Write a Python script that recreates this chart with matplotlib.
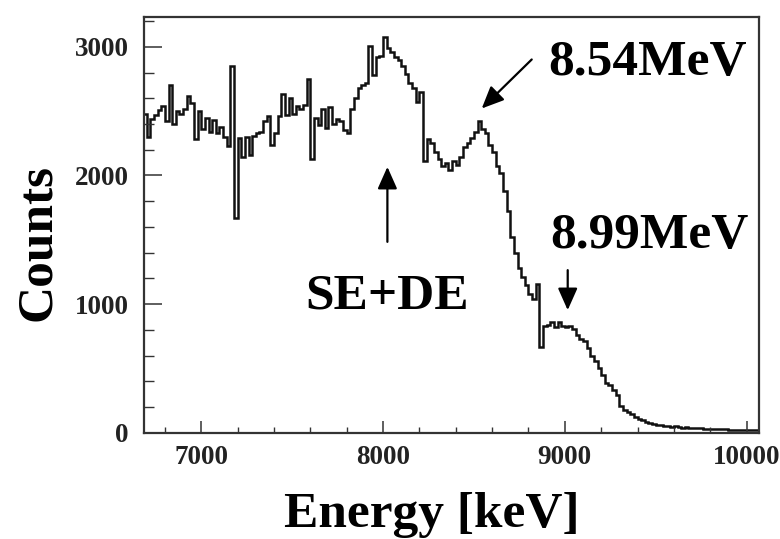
import numpy as np
import matplotlib
matplotlib.use("Agg")
import matplotlib.pyplot as plt
from matplotlib.patches import FancyArrowPatch
from matplotlib.ticker import MultipleLocator

# Histogram binning (keV)
E_START = 6680
BIN_WIDTH = 20

# Counts per 20 keV bin, starting at 6680 keV
counts_6680_7540 = [
    2480, 2300, 2440, 2470, 2510, 2540, 2420, 2700, 2400, 2500,
    2480, 2520, 2620, 2560, 2280, 2500, 2360, 2450, 2340, 2430,
    2330, 2380, 2300, 2230, 2850, 1670, 2290, 2140, 2300, 2160,
    2310, 2330, 2340, 2420, 2460, 2240, 2330, 2460, 2630, 2470,
    2600, 2480, 2540, 2520,
]
counts_7560_8400 = [
    2550, 2750, 2130, 2450, 2390, 2520, 2370, 2530, 2400, 2440,
    2420, 2350, 2330, 2520, 2600, 2680, 2700, 2720, 3010, 2780,
    2920, 2930, 3075, 2990, 2960, 2920, 2900, 2850, 2790, 2720,
    2680, 2573, 2650, 2110, 2280, 2250, 2180, 2130, 2070, 2100,
    2040, 2110, 2080,
]
counts_8420_8980 = [
    2140, 2220, 2250, 2290, 2340, 2420, 2360, 2330, 2240, 2180,
    2070, 2020, 1880, 1720, 1520, 1400, 1280, 1210, 1150, 1080,
    1040, 1160, 670, 830, 840, 860, 820, 860, 830,
]
counts_9000_10060 = [
    820, 830, 810, 760, 730, 710, 660, 600, 560, 500,
    450, 390, 370, 330, 290, 210, 180, 160, 145, 125,
    110, 95, 85, 75, 70, 60, 58, 55, 55, 45,
    50, 42, 40, 42, 38, 36, 35, 33, 30, 30,
    28, 26, 28, 25, 25, 24, 22, 24, 22, 20,
    22, 20, 18, 18,
]
counts = np.array(counts_6680_7540 + counts_7560_8400 + counts_8420_8980 + counts_9000_10060)
edges = E_START + BIN_WIDTH * np.arange(len(counts) + 1)

# Axis ranges and ticks
x_range = (6685, 10070)
y_range = (0, 3230)
x_major = [7000, 8000, 9000, 10000]
y_major = [0, 1000, 2000, 3000]

# Peak labels: (text, text position, arrow tail, arrow tip) in data coordinates
peak_labels = [
    ("8.54MeV", (8908, 2780), (8818, 2902), (8543, 2521)),
    ("8.99MeV", (8919, 1435), (9016, 1264), (9016, 953)),
    ("SE+DE", (7572, 969), (8024, 1484), (8024, 2067)),
]

serif = ["Liberation Serif", "DejaVu Serif"]

fig = plt.figure(figsize=(7.8, 5.39), dpi=100)
ax = fig.add_axes([144 / 780, 1 - 432.7 / 539, (759.3 - 144) / 780, (432.7 - 17.3) / 539])

ax.stairs(counts, edges, color="#111111", linewidth=1.8)

ax.set_xlim(*x_range)
ax.set_ylim(*y_range)
ax.set_xticks(x_major)
ax.set_yticks(y_major)
ax.xaxis.set_minor_locator(MultipleLocator(200))
ax.yaxis.set_minor_locator(MultipleLocator(200))

for s in ax.spines.values():
    s.set_linewidth(1.6)
    s.set_color("#333333")

ax.tick_params(axis="x", which="major", direction="in", length=8.5, width=1.1, pad=9,
               color="#333333")
ax.tick_params(axis="x", which="minor", direction="in", length=4.3, width=1.0,
               color="#333333")
ax.tick_params(axis="y", which="major", direction="in", length=13, width=1.1, pad=11,
               color="#333333")
ax.tick_params(axis="y", which="minor", direction="in", length=7, width=1.0,
               color="#333333")
ax.tick_params(top=False, right=False, which="both")

for lab in ax.get_xticklabels() + ax.get_yticklabels():
    lab.set_fontfamily(serif)
    lab.set_fontweight("bold")
    lab.set_fontsize(19.5)
    lab.set_color("#222222")

fig.text(38 / 780, 1 - 242 / 539, "Counts", rotation=90, ha="center", va="center",
         fontsize=37, fontweight="bold", family=serif)
fig.text(432 / 780, 1 - 527 / 539, "Energy [keV]", ha="center", va="baseline",
         fontsize=37, fontweight="bold", family=serif)

for text, pos, tail, tip in peak_labels:
    ax.text(pos[0], pos[1], text, ha="left", va="baseline", fontsize=37,
            fontweight="bold", family=serif)
    arrow = FancyArrowPatch(tail, tip, arrowstyle="-|>,head_length=0.45,head_width=0.2",
                            mutation_scale=30, linewidth=1.6, color="black",
                            shrinkA=0, shrinkB=0)
    ax.add_patch(arrow)

fig.savefig("out.png", dpi=100)
